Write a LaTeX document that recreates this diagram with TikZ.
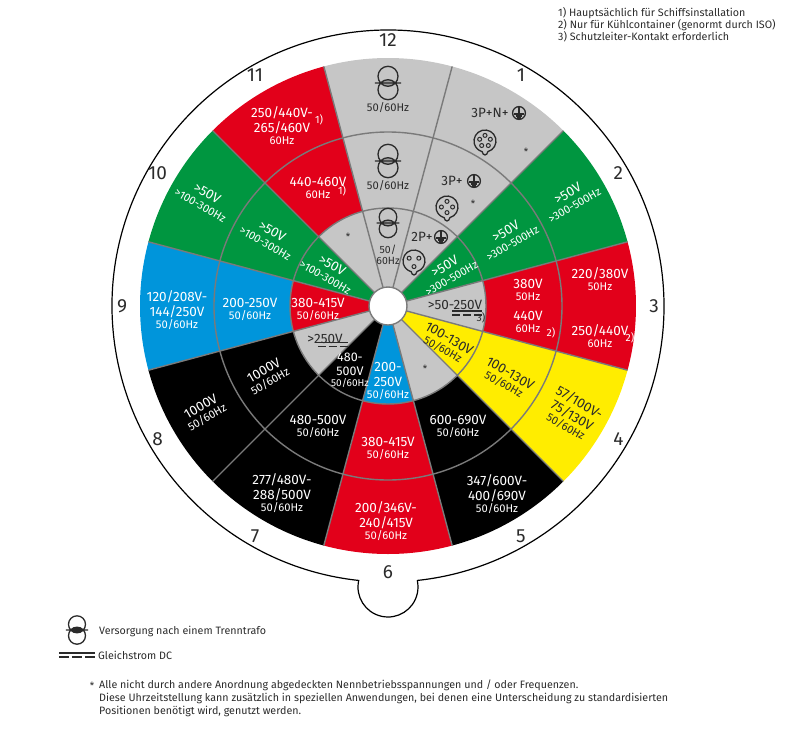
\documentclass[tikz,border=0pt]{standalone}
\usepackage{fontspec}
\setmainfont{Fira Sans}

\definecolor{socred}{HTML}{E2001A}
\definecolor{socgreen}{HTML}{009640}
\definecolor{socblue}{HTML}{0095DB}
\definecolor{socyellow}{HTML}{FFED00}
\definecolor{socgray}{HTML}{C6C6C6}
\definecolor{sepline}{HTML}{7A7A7A}
\definecolor{lensgray}{HTML}{9C9C9C}
\definecolor{ink}{HTML}{2B2B2B}

\newcommand\hz[1]{{\fontsize{11.2}{12}\selectfont #1}}

\tikzset{
  sep/.style={sepline, line width=1.4},
  lbl/.style={align=center, inner sep=0, text=white, font=\fontsize{13.5}{15}\selectfont},
  onlight/.style={text=ink},
  hour/.style={inner sep=0, text=ink, font=\fontsize{19}{19}\selectfont},
  fnote/.style={inner sep=0, font=\fontsize{10.5}{10.5}\selectfont},
  star/.style={inner sep=0, text=ink, font=\fontsize{10}{10}\selectfont},
  note/.style={anchor=base west, inner sep=0, text=ink, font=\fontsize{10.7}{12}\selectfont},
  pics/trafo/.style={code={
    \begin{scope}
      \clip (0,6.7) circle[radius=10];
      \fill[#1] (0,-6.7) circle[radius=10];
    \end{scope}
    \draw[ink, line width=1.3] (0,6.7) circle[radius=10] (0,-6.7) circle[radius=10] (-13,0) -- (13,0);
  }},
  pics/trafo/.default=lensgray,
  pics/earth/.style={code={
    \draw[ink, line width=1.3] (0,0) circle[radius=6.4];
    \draw[ink, line width=1.3] (0,6.4) -- (0,-1) (-4.8,-1) -- (4.8,-1) (-3.3,-3.1) -- (3.3,-3.1) (-1.7,-5.1) -- (1.7,-5.1);
  }},
  pics/socket/.style={code={
    \draw[ink, line width=1.3] (-75:11) arc[start angle=-75, end angle=255, radius=11]
      .. controls (-2.2,-15) and (2.2,-15) .. (-75:11);
    \foreach \p in {#1}
      \draw[ink, line width=1] (\p:5.6) circle[radius=2];
  }},
  pics/dc/.style={code={
    \draw[ink, line width=1.1] (-15,2) -- (15,2);
    \draw[ink, line width=1.1, dash pattern=on 8pt off 3pt] (-15,-2) -- (15,-2);
  }}
}

\begin{document}
\begin{tikzpicture}[x=1pt, y=1pt]
\useasboundingbox (-388,-423) rectangle (412,306);

\foreach \k/\ci/\cm/\co in {1/socgray/socgray/socgray, 2/socgreen/socgreen/socgreen,
    3/socgray/socred/socred, 4/socyellow/socyellow/socyellow, 5/socgray/black/black,
    6/socblue/socred/socred, 7/black/black/black, 8/socgray/black/black,
    9/socred/socblue/socblue, 10/socgreen/socgreen/socgreen, 11/socgray/socred/socred,
    12/socgray/socgray/socgray}
{
  \pgfmathsetmacro\a{90-30*\k}
  \fill[\ci] (0,0) -- (\a-15:98) arc[start angle=\a-15, end angle=\a+15, radius=98] -- cycle;
  \fill[\cm] (\a-15:98) -- (\a-15:174) arc[start angle=\a-15, end angle=\a+15, radius=174]
    -- (\a+15:98) arc[start angle=\a+15, end angle=\a-15, radius=98] -- cycle;
  \fill[\co] (\a-15:174) -- (\a-15:248) arc[start angle=\a-15, end angle=\a+15, radius=248]
    -- (\a+15:174) arc[start angle=\a+15, end angle=\a-15, radius=174] -- cycle;
}

\foreach \k in {0,...,11}
    \draw[sep] (15+30*\k:19) -- (15+30*\k:248);
\draw[sep] (0,0) circle[radius=98] (0,0) circle[radius=174];
\draw[sep, fill=white] (0,0) circle[radius=19];

\draw[line width=1.2] (-83.91:276) arc[start angle=-83.91, end angle=263.91, radius=276]
    arc[start angle=167.38, end angle=372.62, radius=30];

\foreach \h in {1,...,12}
    \node[hour] (h\h) at (90-30*\h:266) {\h};

% 12 o'clock
\pic at (0,223) {trafo};
\node[lbl, onlight] (o12) at (0,198) {\hz{50/60Hz}};
\pic at (0,145) {trafo};
\node[lbl, onlight] (m12) at (0,120) {\hz{50/60Hz}};
\pic[scale=0.88] at (0,83) {trafo};
\node[lbl, onlight, font=\fontsize{10.5}{10.5}\selectfont] (i12) at (0,51) {50/\\60Hz};

% 1 o'clock
\node[lbl, onlight] (o1) at (102,193) {3P+N+};
\pic at (131,193) {earth};
\pic at (97,165) {socket={90,18,-54,-126,162}};
\node[star] (o1s) at (138,154) {*};
\node[lbl, onlight] (m1) at (64,125) {3P+};
\pic at (86,125) {earth};
\pic at (59,99) {socket={90,180,0,270}};
\node[star] (m1s) at (85,102) {*};
\node[lbl, onlight] (i1) at (34,69) {2P+};
\pic at (53,69) {earth};
\pic at (26,45) {socket={150,30,270}};

% 2 o'clock
\node[lbl, rotate=30] (o2) at (183,107) {>50V\\[-2pt]\hz{>300-500Hz}};
\node[lbl, rotate=30] (m2) at (121,69) {>50V\\[-2pt]\hz{>300-500Hz}};
\node[lbl, rotate=30] (i2) at (60,34) {>50V\\[-2pt]\hz{>300-500Hz}};

% 3 o'clock
\node[lbl] (o3a) at (212,27) {220/380V\\[-3pt]\hz{50Hz}};
\node[lbl] (o3b) at (212,-30) {250/440V\\[-3pt]\hz{60Hz}};
\node[fnote, text=white] (o3n) at (242,-32) {2)};
\node[lbl] (m3a) at (140,16) {380V\\[-3pt]\hz{50Hz}};
\node[lbl] (m3b) at (140,-16) {440V\\[-3pt]\hz{60Hz}};
\node[fnote, text=white] (m3n) at (163,-27) {2)};
\node[lbl, onlight] (i3) at (67,1) {>50-250V};
\pic at (79,-7) {dc};
\node[fnote, text=ink] (i3n) at (93,-12) {3)};

% 4 o'clock
\node[lbl, onlight, rotate=-30] (o4) at (185,-108) {57/100V-\\75/130V\\[-3pt]\hz{50/60Hz}};
\node[lbl, onlight, rotate=-30] (m4) at (119,-73) {100-130V\\[-3pt]\hz{50/60Hz}};
\node[lbl, onlight, rotate=-30] (i4) at (58,-38) {100-130V\\[-3pt]\hz{50/60Hz}};

% 5 o'clock
\node[lbl] (o5) at (109,-188) {347/600V-\\400/690V\\[-3pt]\hz{50/60Hz}};
\node[lbl] (m5) at (70,-120) {600-690V\\[-3pt]\hz{50/60Hz}};
\node[star] (i5) at (37,-63) {*};

% 6 o'clock
\node[lbl] (o6) at (-2,-215) {200/346V-\\240/415V\\[-3pt]\hz{50/60Hz}};
\node[lbl] (m6) at (0,-142) {380-415V\\[-3pt]\hz{50/60Hz}};
\node[lbl] (i6) at (0,-75) {200-\\250V\\[-3pt]\hz{50/60Hz}};

% 7 o'clock
\node[lbl, font=\fontsize{12.5}{14}\selectfont] (i7) at (-38,-64) {480-\\500V\\[-3pt]{\fontsize{10}{10}\selectfont 50/60Hz}};
\node[lbl] (m7) at (-70,-120) {480-500V\\[-3pt]\hz{50/60Hz}};
\node[lbl] (o7) at (-106,-187) {277/480V-\\288/500V\\[-3pt]\hz{50/60Hz}};

% 8 o'clock
\node[lbl, rotate=30] (o8) at (-184,-106) {1000V\\[-3pt]\hz{50/60Hz}};
\node[lbl, rotate=30] (m8) at (-121,-70) {1000V\\[-3pt]\hz{50/60Hz}};
\begin{scope}[shift={(-63,-33)}, rotate=30]
  \node[lbl, onlight] (i8) at (0,0) {>250V};
  \pic at (4,-9) {dc};
\end{scope}

% 9 o'clock
\node[lbl] (o9) at (-211,-4) {120/208V-\\144/250V\\[-3pt]\hz{50/60Hz}};
\node[lbl] (m9) at (-138,-3) {200-250V\\[-3pt]\hz{50/60Hz}};
\node[lbl] (i9) at (-70,-3) {380-415V\\[-3pt]\hz{50/60Hz}};

% 10 o'clock
\node[lbl, rotate=-30] (o10) at (-184,107) {>50V\\[-2pt]\hz{>100-300Hz}};
\node[lbl, rotate=-30] (m10) at (-119,69) {>50V\\[-2pt]\hz{>100-300Hz}};
\node[lbl, rotate=-30] (i10) at (-59,35) {>50V\\[-2pt]\hz{>100-300Hz}};

% 11 o'clock
\node[lbl] (o11) at (-106,180) {250/440V-\\265/460V\\[-3pt]\hz{60Hz}};
\node[fnote, text=white] (o11n) at (-69,186) {1)};
\node[lbl] (m11) at (-70,118) {440-460V\\[-3pt]\hz{60Hz}};
\node[fnote, text=white] (m11n) at (-46,115) {1)};
\node[star] (i11) at (-40,69) {*};

% notes
\node[note] (note1) at (170,290) {1) Hauptsächlich für Schiffsinstallation};
\node[note] (note2) at (170,278) {2) Nur für Kühlcontainer (genormt durch ISO)};
\node[note] (note3) at (170,266) {3) Schutzleiter-Kontakt erforderlich};

% legend
\pic[scale=0.85] at (-311,-324) {trafo=ink};
\node[note] (leg1) at (-289,-328) {Versorgung nach einem Trenntrafo};
\draw[ink, line width=1.1] (-329,-347) -- (-293,-347);
\draw[ink, line width=1.1, dash pattern=on 10pt off 3pt] (-329,-351) -- (-293,-351);
\node[note] (leg2) at (-290,-353) {Gleichstrom DC};
\node[star] (legs) at (-296,-380) {*};
\node[note] (leg3) at (-289,-382) {Alle nicht durch andere Anordnung abgedeckten Nennbetriebsspannungen und / oder Frequenzen.};
\node[note] (leg4) at (-289,-395) {Diese Uhrzeitstellung kann zusätzlich in speziellen Anwendungen, bei denen eine Unterscheidung zu standardisierten};
\node[note] (leg5) at (-289,-408) {Positionen benötigt wird, genutzt werden.};

\end{tikzpicture}
\end{document}
